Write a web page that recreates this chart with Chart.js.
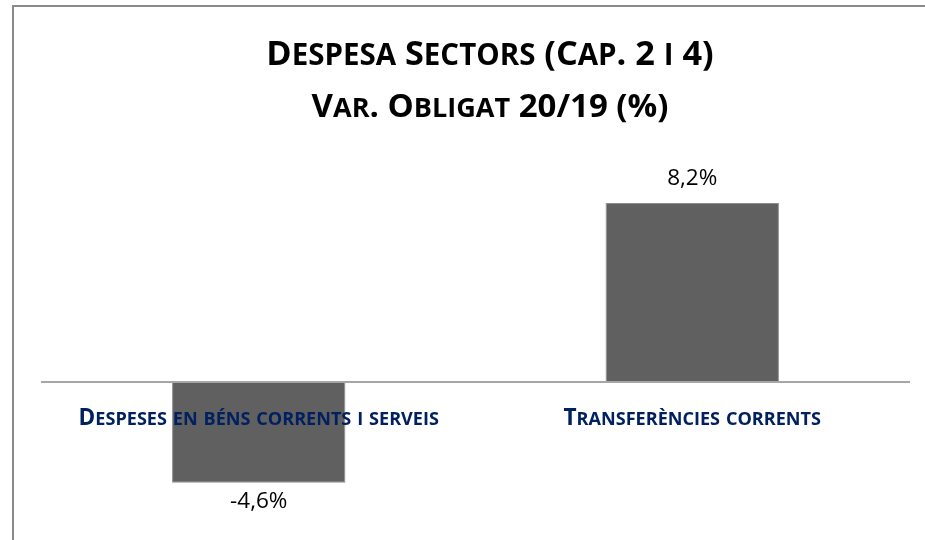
<!DOCTYPE html>
<html>
<head>
<meta charset="utf-8">
<script src="https://cdn.jsdelivr.net/npm/chart.js@4.4.1/dist/chart.umd.min.js"></script>
<style>
  html, body { margin: 0; padding: 0; background: #ffffff; }
  #wrap { width: 925px; height: 540px; position: relative; }
</style>
</head>
<body>
<div id="wrap"><canvas id="c" width="925" height="540"></canvas></div>
<script>
const categories = ['Despeses en béns corrents i serveis', 'Transferències corrents'];
const values = [-4.6, 8.2];
const titleLines = ['Despesa Sectors (Cap. 2 i 4)', 'Var. Obligat 20/19 (%)'];

// draw text in small caps: lowercase letters rendered as reduced capitals
function smallCapsRuns(text) {
  const runs = [];
  for (const ch of text) {
    const small = ch !== ch.toUpperCase();
    const last = runs[runs.length - 1];
    if (last && last.small === small) last.t += ch; else runs.push({ t: ch, small });
  }
  return runs;
}
function drawSmallCaps(ctx, text, cx, baseline, size, ratio, weight, family, color) {
  const runs = smallCapsRuns(text);
  ctx.save();
  ctx.fillStyle = color;
  ctx.textBaseline = 'alphabetic';
  ctx.textAlign = 'left';
  let total = 0;
  runs.forEach(r => {
    ctx.font = weight + ' ' + (r.small ? size * ratio : size) + 'px ' + family;
    r.str = r.small ? r.t.toUpperCase() : r.t;
    r.w = ctx.measureText(r.str).width;
    total += r.w;
  });
  let x = cx - total / 2;
  runs.forEach(r => {
    ctx.font = weight + ' ' + (r.small ? size * ratio : size) + 'px ' + family;
    ctx.fillText(r.str, x, baseline);
    x += r.w;
  });
  ctx.restore();
}

const frameBorder = {
  id: 'frameBorder',
  afterDraw(chart) {
    const ctx = chart.ctx;
    ctx.save();
    ctx.strokeStyle = '#8a8a8a';
    ctx.lineWidth = 2;
    ctx.beginPath();
    ctx.moveTo(13, 540);
    ctx.lineTo(13, 6);
    ctx.lineTo(925, 6);
    ctx.stroke();
    ctx.restore();
  }
};

const titleAndLabels = {
  id: 'titleAndLabels',
  afterDraw(chart) {
    const ctx = chart.ctx;
    drawSmallCaps(ctx, titleLines[0], 490, 65, 34.3, 0.86, 'bold', '"Open Sans"', '#000000');
    drawSmallCaps(ctx, titleLines[1], 490, 117, 33, 0.82, 'bold', '"Open Sans"', '#000000');
    const xs = chart.scales.x;
    const y0 = chart.scales.y.getPixelForValue(0);
    categories.forEach((lab, i) => {
      drawSmallCaps(ctx, lab, xs.getPixelForTick(i), y0 + 42.5, 22.6, 0.8, 'bold', '"Open Sans"', '#002060');
    });
  }
};

const valueLabels = {
  id: 'valueLabels',
  afterDatasetsDraw(chart) {
    const ctx = chart.ctx;
    const meta = chart.getDatasetMeta(0);
    ctx.save();
    ctx.font = '22.5px "Open Sans"';
    ctx.fillStyle = '#000000';
    ctx.textAlign = 'center';
    ctx.textBaseline = 'alphabetic';
    meta.data.forEach((bar, i) => {
      const v = values[i];
      const txt = v.toFixed(1).replace('.', ',') + '%';
      const y = v >= 0 ? bar.y - 18 : bar.y + 25;
      ctx.fillText(txt, bar.x, y);
    });
    ctx.restore();
  }
};

new Chart(document.getElementById('c'), {
  type: 'bar',
  data: {
    labels: categories,
    datasets: [{
      data: values,
      backgroundColor: '#606060',
      borderColor: '#8f8f8f',
      borderWidth: 1,
      barPercentage: 0.4,
      categoryPercentage: 1.0
    }]
  },
  options: {
    responsive: false,
    animation: false,
    devicePixelRatio: 1,
    layout: { padding: { left: 42, right: 16, top: 163.7, bottom: 26.7 } },
    plugins: {
      legend: { display: false },
      tooltip: { enabled: false },
      title: { display: false }
    },
    scales: {
      x: {
        position: { y: 0 },
        grid: { display: false, drawTicks: false },
        border: { display: true, color: '#a6a6a6', width: 2, z: 1 },
        ticks: { display: false }
      },
      y: {
        display: false,
        min: -6,
        max: 10
      }
    }
  },
  plugins: [valueLabels, titleAndLabels, frameBorder]
});
</script>
</body>
</html>
